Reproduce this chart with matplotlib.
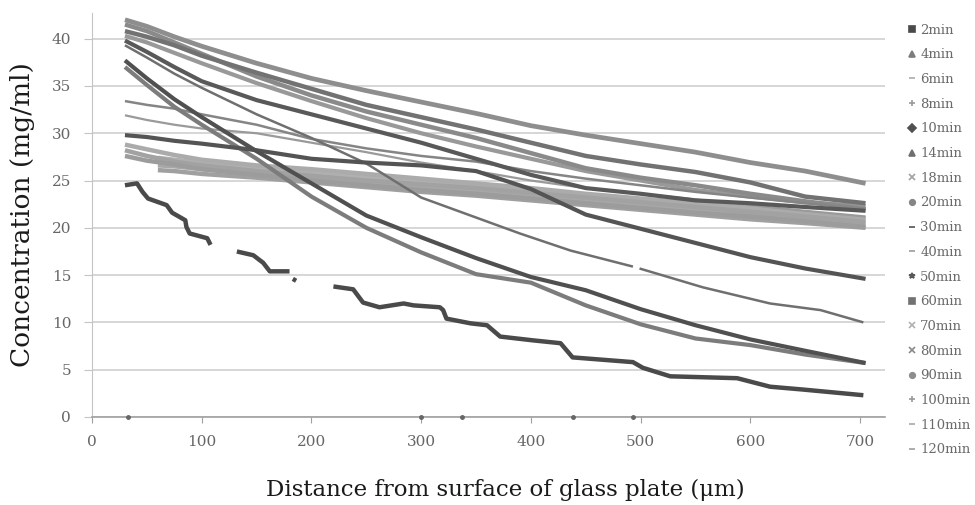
import matplotlib
matplotlib.use("Agg")
import matplotlib.pyplot as plt
import numpy as np
from matplotlib.lines import Line2D

nan = np.nan

# shared distance grid (um) for most curves
grid = [30, 50, 75, 100, 150, 200, 250, 300, 350, 400, 450, 500, 550, 600, 650, 705]
grid_late = [60, 75, 100, 150, 200, 250, 300, 350, 400, 450, 500, 550, 600, 650, 705]

# 2min has steps and holes, so it gets its own x values
x_2min = [30, 41, 46, 51, 68, 73, 85, 86, 89, 105, 108, nan,
          132, 147, 156, 162, 180, nan, 183, 186, nan,
          220, 238, 247, 262, 284, 293, 317, 320, 323, 345, 360, 372,
          402, 427, 438, 493, 502, 527, 588, 618, 648, 703]
y_2min = [24.5, 24.7, 23.8, 23.1, 22.4, 21.6, 20.8, 20.1, 19.4, 18.9, 18.2, nan,
          17.5, 17.1, 16.3, 15.4, 15.4, nan, 14.6, 14.4, nan,
          13.8, 13.5, 12.1, 11.6, 12.0, 11.8, 11.6, 11.3, 10.4, 9.9, 9.7, 8.5,
          8.1, 7.8, 6.3, 5.8, 5.2, 4.3, 4.1, 3.2, 2.9, 2.3]

y_4min = [37.0, 35.1, 32.8, 30.9, 27.3, 23.3, 20.0, 17.4, 15.1, 14.2, 11.8, 9.8, 8.3, 7.6, 6.6, 5.7]
y_6min = [28.8, 28.3, 27.7, 27.2, 26.6, 26.2, 25.7, 25.2, 24.7, 24.2, 23.6, 23.1, 22.6, 22.1, 21.6, 21.0]
y_8min = [31.9, 31.4, 30.9, 30.5, 30.0, 29.0, 28.0, 26.9, 26.0, 25.0, 24.2, 23.6, 23.0, 22.4, 21.8, 21.2]
y_10min = [37.7, 35.8, 33.6, 31.7, 28.1, 24.7, 21.3, 19.0, 16.8, 14.8, 13.4, 11.4, 9.7, 8.2, 7.0, 5.7]

x_14min = [30, 50, 75, 100, 150, 200, 250, 300, 345, 390, 436, 493, nan, 499, 557, 618, 664, 703]
y_14min = [39.3, 38.0, 36.3, 34.8, 32.0, 29.5, 26.8, 23.2, 21.3, 19.4, 17.6, 15.9, nan, 15.7, 13.7, 12.0, 11.3, 10.0]

y_18min = [28.2, 27.6, 27.0, 26.6, 26.0, 25.5, 25.0, 24.6, 24.2, 23.7, 23.2, 22.7, 22.2, 21.7, 21.2, 20.6]
y_20min = [33.4, 33.0, 32.6, 32.0, 30.9, 29.4, 28.4, 27.6, 27.0, 26.0, 25.2, 24.5, 23.8, 23.2, 22.6, 22.0]
y_30min = [29.8, 29.6, 29.2, 28.9, 28.2, 27.3, 26.9, 26.6, 26.0, 24.1, 21.4, 19.9, 18.4, 16.9, 15.7, 14.6]
y_40min = [27.6, 27.1, 26.7, 26.2, 25.6, 25.0, 24.5, 24.0, 23.6, 23.1, 22.6, 22.1, 21.6, 21.2, 20.7, 20.1]
y_50min = [39.8, 38.6, 37.0, 35.5, 33.5, 32.0, 30.5, 29.0, 27.3, 25.6, 24.2, 23.6, 22.9, 22.6, 22.2, 21.8]
y_60min = [40.8, 40.2, 39.3, 38.2, 36.4, 34.7, 33.0, 31.7, 30.4, 29.0, 27.6, 26.7, 25.9, 24.8, 23.3, 22.6]
y_70min = [27.4, 27.2, 26.9, 26.3, 25.8, 25.3, 24.9, 24.5, 24.0, 23.4, 22.9, 22.3, 21.9, 21.4, 20.9]
y_80min = [41.5, 40.8, 39.6, 38.4, 36.0, 34.0, 32.3, 30.9, 29.5, 27.9, 26.3, 25.3, 24.5, 23.6, 22.8, 22.0]
y_90min = [42.0, 41.3, 40.2, 39.2, 37.4, 35.8, 34.5, 33.3, 32.1, 30.8, 29.8, 28.9, 28.0, 26.9, 26.0, 24.7]
y_100min = [40.3, 39.6, 38.5, 37.4, 35.3, 33.4, 31.6, 30.0, 28.6, 27.3, 26.0, 25.0, 24.0, 23.3, 22.7, 22.3]
y_110min = [26.6, 26.5, 26.2, 25.8, 25.2, 24.7, 24.3, 23.8, 23.3, 22.8, 22.4, 21.8, 21.4, 20.9, 20.4]
y_120min = [26.1, 26.0, 25.7, 25.3, 24.8, 24.3, 23.8, 23.4, 22.9, 22.4, 21.9, 21.4, 20.9, 20.5, 20.0]

# stray zero readings along the x axis
zero_x = [33, 300, 337, 438, 493]
zero_y = [0, 0, 0, 0, 0]

# label, x, y, colour, legend marker, line width
series = [
    ("2min", x_2min, y_2min, "#4a4a4a", "s", 3.2),
    ("4min", grid, y_4min, "#7c7c7c", "^", 3.0),
    ("6min", grid, y_6min, "#ababab", "_", 3.2),
    ("8min", grid, y_8min, "#9a9a9a", "+", 1.6),
    ("10min", grid, y_10min, "#505050", "D", 3.0),
    ("14min", x_14min, y_14min, "#6f6f6f", "^", 1.8),
    ("18min", grid, y_18min, "#a2a2a2", "x", 3.2),
    ("20min", grid, y_20min, "#858585", "o", 1.8),
    ("30min", grid, y_30min, "#545454", "_", 3.0),
    ("40min", grid, y_40min, "#9c9c9c", "_", 3.2),
    ("50min", grid, y_50min, "#595959", "*", 3.0),
    ("60min", grid, y_60min, "#727272", "s", 3.2),
    ("70min", grid_late, y_70min, "#b0b0b0", "x", 3.2),
    ("80min", grid, y_80min, "#8a8a8a", "x", 3.2),
    ("90min", grid, y_90min, "#8e8e8e", "o", 3.4),
    ("100min", grid, y_100min, "#999999", "+", 3.0),
    ("110min", grid_late, y_110min, "#a8a8a8", "_", 3.2),
    ("120min", grid_late, y_120min, "#a0a0a0", "_", 3.2),
]

plt.rcParams["font.family"] = ["DejaVu Serif"]

fig = plt.figure(figsize=(9.75, 5.05), dpi=100)
ax = fig.add_axes([0.0944, 0.1743, 0.8136, 0.7997])

# draw the light ones first so the dark curves sit on top
order = sorted(range(len(series)), key=lambda i: -int(series[i][3][1:3], 16))
for i in order:
    lab, xs, ys, col, mk, lw = series[i]
    ax.plot(xs, ys, color=col, lw=lw, solid_capstyle="butt", zorder=3)
ax.plot(zero_x, zero_y, ls="none", marker="o", ms=2.5, color="#666666", zorder=4, clip_on=False)

ax.set_xlim(0, 723)
ax.set_ylim(0, 42.7)
ax.set_xticks(range(0, 701, 100))
ax.set_yticks(range(0, 41, 5))
ax.yaxis.grid(True, color="#cfcfcf", lw=1.2)
ax.set_axisbelow(True)
for s in ["top", "right"]:
    ax.spines[s].set_visible(False)
ax.spines["left"].set_color("#c4c4c4")
ax.spines["bottom"].set_color("#a0a0a0")
ax.spines["bottom"].set_linewidth(1.2)
ax.tick_params(axis="y", length=6, color="#c4c4c4", labelsize=11, labelcolor="#666666", pad=9)
ax.tick_params(axis="x", length=4, color="#a0a0a0", labelsize=11, labelcolor="#666666", pad=9)

ax.set_ylabel("Concentration (mg/ml)", fontsize=19, color="#1a1a1a", labelpad=12)
fig.text(0.518, 0.03, "Distance from surface of glass plate (μm)", fontsize=16.5,
         color="#1a1a1a", ha="center", va="center")

handles = [Line2D([], [], ls="none", marker=mk, color=col, ms=4, mew=1.2)
           for lab, xs, ys, col, mk, lw in series]
labels = [s[0] for s in series]
leg = fig.legend(handles, labels, loc="upper left", bbox_to_anchor=(0.931, 0.953),
                 frameon=False, fontsize=9.5, labelspacing=0.885, handlelength=0.6,
                 handletextpad=0.35, borderaxespad=0, borderpad=0)
for t in leg.get_texts():
    t.set_color("#6a6a6a")

fig.savefig("out.png", dpi=100)
